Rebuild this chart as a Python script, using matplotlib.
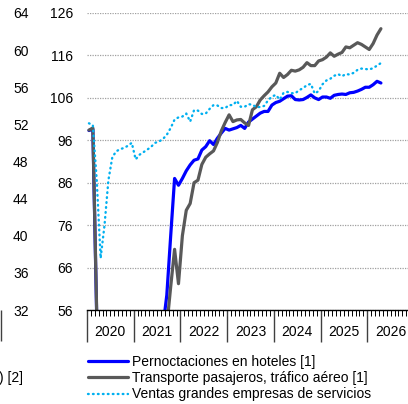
import numpy as np
import matplotlib
matplotlib.use("Agg")
import matplotlib.pyplot as plt

plt.rcParams['font.family'] = ['Liberation Sans', 'DejaVu Sans']
plt.rcParams['font.size'] = 10

# monthly series, Jan 2020 - Apr 2026 (values under 56 fall off the chart)
pernoctaciones = [
    98.3, 98.6, 54.0, 2.0, 3.0, 10.0, 30.0, 38.0, 33.0, 25.0, 15.0, 14.0,
    12.0, 14.0, 18.0, 20.0, 25.0, 38.0, 47.0, 52.0, 59.5, 73.5, 87.0, 85.4,
    87.0, 88.8, 90.2, 91.3, 91.6, 93.7, 94.5, 95.9, 95.0, 96.5, 97.7, 98.8,
    98.4, 98.7, 99.0, 99.5, 98.8, 100.3, 101.0, 101.7, 102.4, 102.8, 102.8, 104.3,
    104.9, 105.2, 105.8, 106.4, 106.5, 105.6, 105.5, 105.6, 106.1, 106.7, 106.0, 105.6,
    106.2, 106.2, 105.9, 106.6, 106.8, 106.9, 106.8, 107.2, 107.3, 107.6, 108.0, 108.5,
    108.5, 109.1, 109.9, 109.5,
]
transporte = [
    98.4, 98.9, 55.0, 3.0, 4.0, 12.0, 25.0, 30.0, 28.0, 22.0, 15.0, 16.0,
    12.0, 11.0, 14.0, 16.0, 22.0, 33.0, 42.0, 47.0, 52.2, 61.5, 70.3, 62.2,
    73.5, 79.5, 81.1, 86.0, 86.6, 90.3, 92.0, 92.8, 93.5, 95.5, 98.2, 100.2,
    102.0, 100.4, 100.8, 100.9, 100.1, 99.5, 103.2, 103.9, 105.5, 106.5, 107.4, 108.6,
    109.5, 111.8, 110.8, 111.5, 112.5, 112.3, 112.6, 113.2, 114.3, 113.6, 113.6, 114.7,
    115.0, 115.6, 116.6, 115.8, 116.3, 116.7, 118.0, 117.8, 118.4, 119.0, 118.6, 118.0,
    117.4, 118.8, 120.8, 122.3,
]
ventas = [
    100.0, 99.6, 86.6, 68.2, 76.0, 86.6, 92.0, 93.4, 93.9, 94.2, 94.7, 95.4,
    91.5, 92.6, 93.2, 93.8, 94.5, 95.4, 95.7, 96.3, 97.3, 98.9, 100.9, 101.4,
    101.6, 102.3, 100.4, 103.1, 103.0, 102.2, 102.3, 103.4, 104.3, 104.2, 103.6, 103.6,
    104.3, 104.3, 105.3, 103.9, 103.9, 104.5, 104.4, 103.8, 103.85, 104.1, 105.4, 106.3,
    106.7, 105.6, 107.2, 107.4, 107.1, 107.1, 107.8, 108.3, 109.0, 109.3, 107.0, 107.6,
    109.2, 110.1, 110.5, 111.2, 111.6, 111.1, 111.6, 111.5, 111.9, 112.6, 112.9, 112.8,
    112.7, 113.0, 113.6, 114.2,
]
labels = ['Pernoctaciones en hoteles [1]',
          'Transporte pasajeros, tráfico aéreo [1]',
          'Ventas grandes empresas de servicios']
years = [2020, 2021, 2022, 2023, 2024, 2025, 2026]
y_ticks = [56, 66, 76, 86, 96, 106, 116, 126]
left_ticks = [32, 36, 40, 44, 48, 52, 56, 60, 64]

t = 2020 + (np.arange(len(transporte)) + 0.5) / 12

W, H = 408, 404
fig = plt.figure(figsize=(W / 100, H / 100), dpi=100)

# piece of the neighbouring panel (its right axis) cut by the crop
ax0 = fig.add_axes([-0.3, 94 / H, 0.3 + 0.5 / W, 297 / H])
ax0.patch.set_visible(False)
for s in ax0.spines.values():
    s.set_visible(False)
ax0.set_ylim(32, 64)
ax0.set_yticks(left_ticks)
ax0.yaxis.tick_right()
ax0.tick_params(axis='y', length=0, pad=9)
ax0.set_xlim(0, 1)
ax0.set_xticks([1])
ax0.set_xticklabels([])
ax0.tick_params(axis='x', length=22, width=1.0, color='#404040')
fig.text(23 / W, 1 - 378 / H, ') [2]', ha='right', va='center')

ax = fig.add_axes([87 / W, 94 / H, 327 / W, 297 / H])
ax.plot(t, pernoctaciones, color='#0000ff', lw=2.3, solid_capstyle='round',
        solid_joinstyle='round', label=labels[0])
ax.plot(t, transporte, color='#595959', lw=2.3, solid_capstyle='round',
        solid_joinstyle='round', label=labels[1])
ax.plot(t, ventas, color='#00b0f0', lw=1.7, linestyle=(0, (0.3, 1.8)),
        dash_capstyle='round', label=labels[2])

ax.set_xlim(2020, 2027)
ax.set_ylim(56, 126)
ax.set_yticks(y_ticks)
ax.yaxis.grid(True, color='#a0a0a0', linestyle=(0, (1, 1)), lw=0.9)
ax.set_axisbelow(True)
ax.tick_params(axis='y', length=0, pad=10)

for s in ['left', 'top', 'right']:
    ax.spines[s].set_visible(False)
ax.spines['bottom'].set_color('black')
ax.spines['bottom'].set_linewidth(1.0)

ax.set_xticks(years + [2027])
ax.set_xticklabels([])
ax.set_xticks(np.arange(2020, 2027, 1 / 12), minor=True)
ax.tick_params(axis='x', which='major', length=23, width=1.0, color='#404040')
ax.tick_params(axis='x', which='minor', length=4.3, width=0.7, color='black')
for yr in years:
    ax.text(yr + 0.5, -22 / 297, str(yr), transform=ax.get_xaxis_transform(),
            ha='center', va='center')

ax.legend(loc='upper left', bbox_to_anchor=(88 / W, 1 - 355 / H),
          bbox_transform=fig.transFigure, frameon=False, borderpad=0,
          borderaxespad=0, handlelength=2.9, handletextpad=0.3,
          labelspacing=0.16)

fig.savefig('out.png', dpi=100)
